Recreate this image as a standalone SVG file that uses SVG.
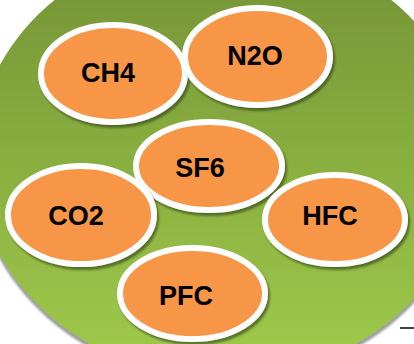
<svg xmlns="http://www.w3.org/2000/svg" width="414" height="344" viewBox="0 0 414 344">
  <defs>
    <linearGradient id="bg" gradientUnits="userSpaceOnUse" x1="0" y1="0" x2="0" y2="344">
      <stop offset="0" stop-color="#789938"/>
      <stop offset="0.5" stop-color="#8ab040"/>
      <stop offset="1" stop-color="#9dc74a"/>
    </linearGradient>
    <filter id="bigShadow" x="-10%" y="-10%" width="120%" height="120%">
      <feDropShadow dx="0" dy="4" stdDeviation="1" flood-color="#8c8c8c" flood-opacity="0.85"/>
    </filter>
    <filter id="shadow" x="-10%" y="-10%" width="125%" height="130%">
      <feDropShadow dx="2" dy="3" stdDeviation="1.2" flood-color="#2a3a10" flood-opacity="0.6"/>
    </filter>
    <style>
      .node ellipse { fill: #f79646; stroke: #ffffff; stroke-width: 6; filter: url(#shadow); }
      .node text { font-family: "Liberation Sans", Arial, sans-serif; font-weight: bold; font-size: 27px; fill: #000000; text-anchor: middle; dominant-baseline: central; }
    </style>
  </defs>
  <rect width="414" height="344" fill="#ffffff"/>
  <ellipse cx="223" cy="160" rx="248" ry="218" fill="url(#bg)" filter="url(#bigShadow)"/>
  <line x1="400" y1="328" x2="414" y2="328" stroke="#000000" stroke-width="1.5"/>
  <g id="connectors"/>
  <g id="CH4" class="node">
    <ellipse cx="113" cy="73.5" rx="72" ry="48.5"/>
    <text x="108" y="73">CH4</text>
  </g>
  <g id="N2O" class="node">
    <ellipse cx="257.5" cy="56.5" rx="72.5" ry="48.5"/>
    <text x="255" y="56">N2O</text>
  </g>
  <g id="SF6" class="node">
    <ellipse cx="209" cy="166" rx="73" ry="44"/>
    <text x="200" y="168">SF6</text>
  </g>
  <g id="CO2" class="node">
    <ellipse cx="81" cy="215" rx="73" ry="49"/>
    <text x="76" y="216">CO2</text>
  </g>
  <g id="HFC" class="node">
    <ellipse cx="335" cy="219.5" rx="70" ry="44.5"/>
    <text x="330" y="216">HFC</text>
  </g>
  <g id="PFC" class="node">
    <ellipse cx="192.5" cy="293.5" rx="72.5" ry="45.5"/>
    <text x="186" y="296">PFC</text>
  </g>
</svg>
